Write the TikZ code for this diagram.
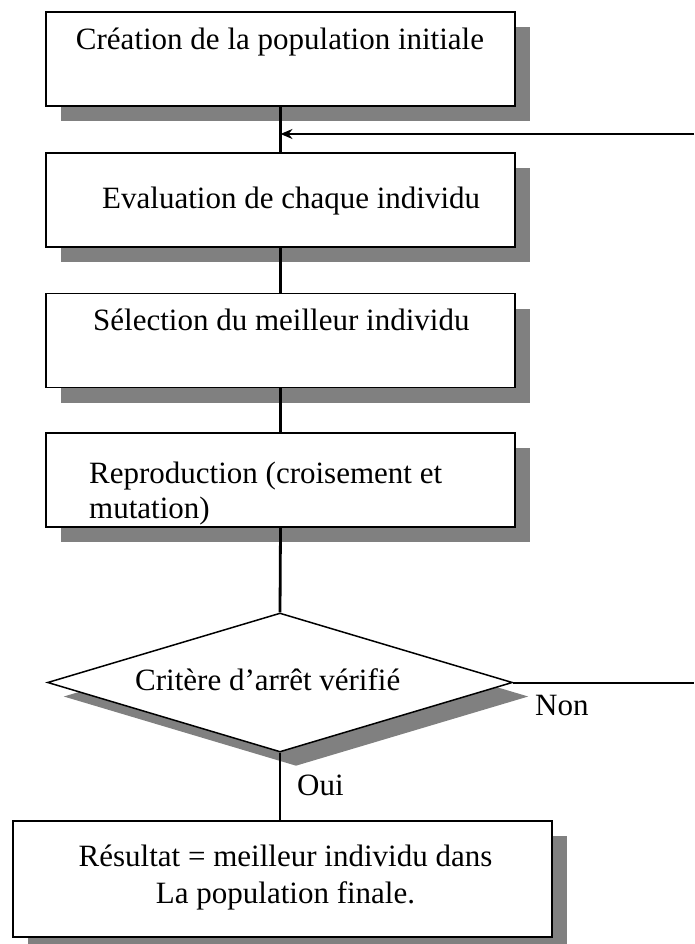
\documentclass[tikz,border=0pt]{standalone}
\usepackage{fontspec}
\setmainfont{Liberation Serif}
\usetikzlibrary{shapes.geometric,shadows,arrows.meta}
\begin{document}
\begin{tikzpicture}[x=1pt,y=-1pt,
  shad/.style={drop shadow={shadow xshift=15pt,shadow yshift=-15pt,opacity=1,fill=black!50}},
  stepbox/.style={draw=black,line width=1.8pt,fill=white,shad,minimum width=469pt,minimum height=94pt,inner sep=0pt},
  decision/.style={diamond,draw=black,line width=1.5pt,fill=white,
     drop shadow={shadow xshift=16pt,shadow yshift=-14pt,opacity=1,fill=black!50},
     minimum width=465pt,minimum height=139pt,inner sep=0pt},
  txt/.style={inner sep=0pt,font=\fontsize{31}{36}\selectfont},
  conn/.style={line width=2.8pt},
  back/.style={line width=2pt}]
\useasboundingbox (0,0) rectangle (694,944);
% boxes
\node[stepbox] (b1) at (280.5,59) {};
\node[stepbox] (b2) at (280.5,200) {};
\node[stepbox] (b3) at (280.5,340.5) {};
\node[stepbox] (b4) at (280.5,480) {};
\node[decision] (d) at (280,682.5) {};
\node[stepbox,minimum width=539pt,minimum height=116pt] (b5) at (282.5,879) {};
% texts
\node[txt,anchor=base] (t1) at (280,50) {Création de la population initiale};
\node[txt,anchor=base west] (t2) at (102,208) {Evaluation de chaque individu};
\node[txt,anchor=base west] (t3) at (93,330) {Sélection du meilleur individu};
\node[txt,anchor=base west] (t4a) at (89,483) {Reproduction (croisement et};
\node[txt,anchor=base west] (t4b) at (89,518) {mutation)};
\node[txt,anchor=base west] (td) at (135,690) {Critère d’arrêt vérifié};
\node[txt,anchor=base] (t5a) at (285.5,866) {Résultat = meilleur individu dans};
\node[txt,anchor=base] (t5b) at (285.5,903) {La population finale.};
\node[txt,anchor=base west] (non) at (535,715) {Non};
\node[txt,anchor=base west] (oui) at (297,795) {Oui};
% connectors
\coordinate (r1) at (694,134);
\coordinate (j1) at (280.5,134);
\coordinate (r2) at (694,682.5);
\draw[conn] (b1.south) -- (b2.north);
\draw[back,-{Stealth[length=12pt,width=10pt,inset=4pt]}] (r1) -- (j1);
\draw[conn] (b2.south) -- (b3.north);
\draw[conn] (b3.south) -- (b4.north);
\draw[conn] (b4.south) -- (d.north);
\draw[conn] (d.south) -- (d.south |- b5.north);
\draw[back] (d.east) -- (r2);
\end{tikzpicture}
\end{document}
